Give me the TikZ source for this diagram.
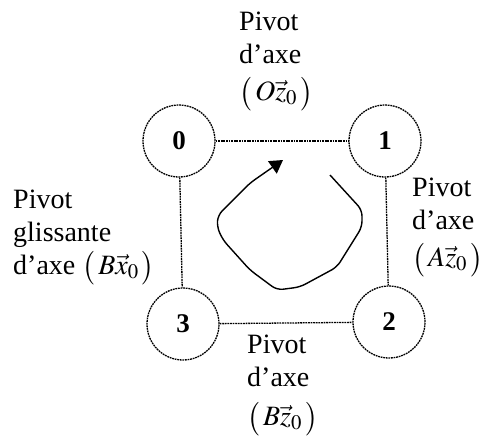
\documentclass[tikz,border=0pt]{standalone}
\usepackage{mathptmx}
\usepackage{fontspec}
\setmainfont{Liberation Serif}
\usetikzlibrary{arrows.meta}

\begin{document}
\begin{tikzpicture}[
        x=1pt, y=-1pt,
        solide/.style={circle, draw, dash pattern=on 1.8pt off 0.8pt, line width=1.3pt, minimum size=72pt, inner sep=0pt, font=\fontsize{27}{33}\selectfont\bfseries},
        liaison/.style={dash pattern=on 1.8pt off 0.8pt, line width=1.3pt},
        etiquette/.style={anchor=north west, inner sep=0pt, align=left, font=\fontsize{28}{33}\selectfont}
      ]
      \useasboundingbox (0,0) rectangle (486,437);
      % solides
      \node[solide] (s0) at (179,141) {0};
      \node[solide] (s1) at (385,141) {1};
      \node[solide] (s2) at (389,322) {2};
      \node[solide] (s3) at (183,324) {3};
      % liaisons
      \draw[liaison] (s0) -- (s1);
      \draw[liaison] (s1) -- (s2);
      \draw[liaison] (s3) -- (s2);
      \draw[liaison] (s0) -- (s3);
      % noms des liaisons
      \node[etiquette] (l01) at (239,12) {Pivot\\d'axe\\[4pt]$\bigl(\,O\vec{z}_0\,\bigr)$};
      \node[etiquette] (l12) at (412,178) {Pivot\\d'axe\\[4pt]$\bigl(\,A\vec{z}_0\,\bigr)$};
      \node[etiquette] (l23) at (247,335) {Pivot\\d'axe\\[6pt]$\bigl(\,B\vec{z}_0\,\bigr)$};
      \node[etiquette] (l30) at (13,190) {Pivot\\glissante\\d'axe $\bigl(\,B\vec{x}_0\,\bigr)$};
      % sens de parcours
      \draw[line width=1.4pt, rounded corners=6pt, -{Triangle[length=13pt,width=15pt]}]
        (330,175) -- (362,210) -- (362,227) -- (337,267) -- (300,287) -- (277,290)
        -- (250,270) -- (223,240) -- (217,227) -- (218,215) -- (230,203) -- (250,183) -- (283,160);
\end{tikzpicture}
\end{document}
